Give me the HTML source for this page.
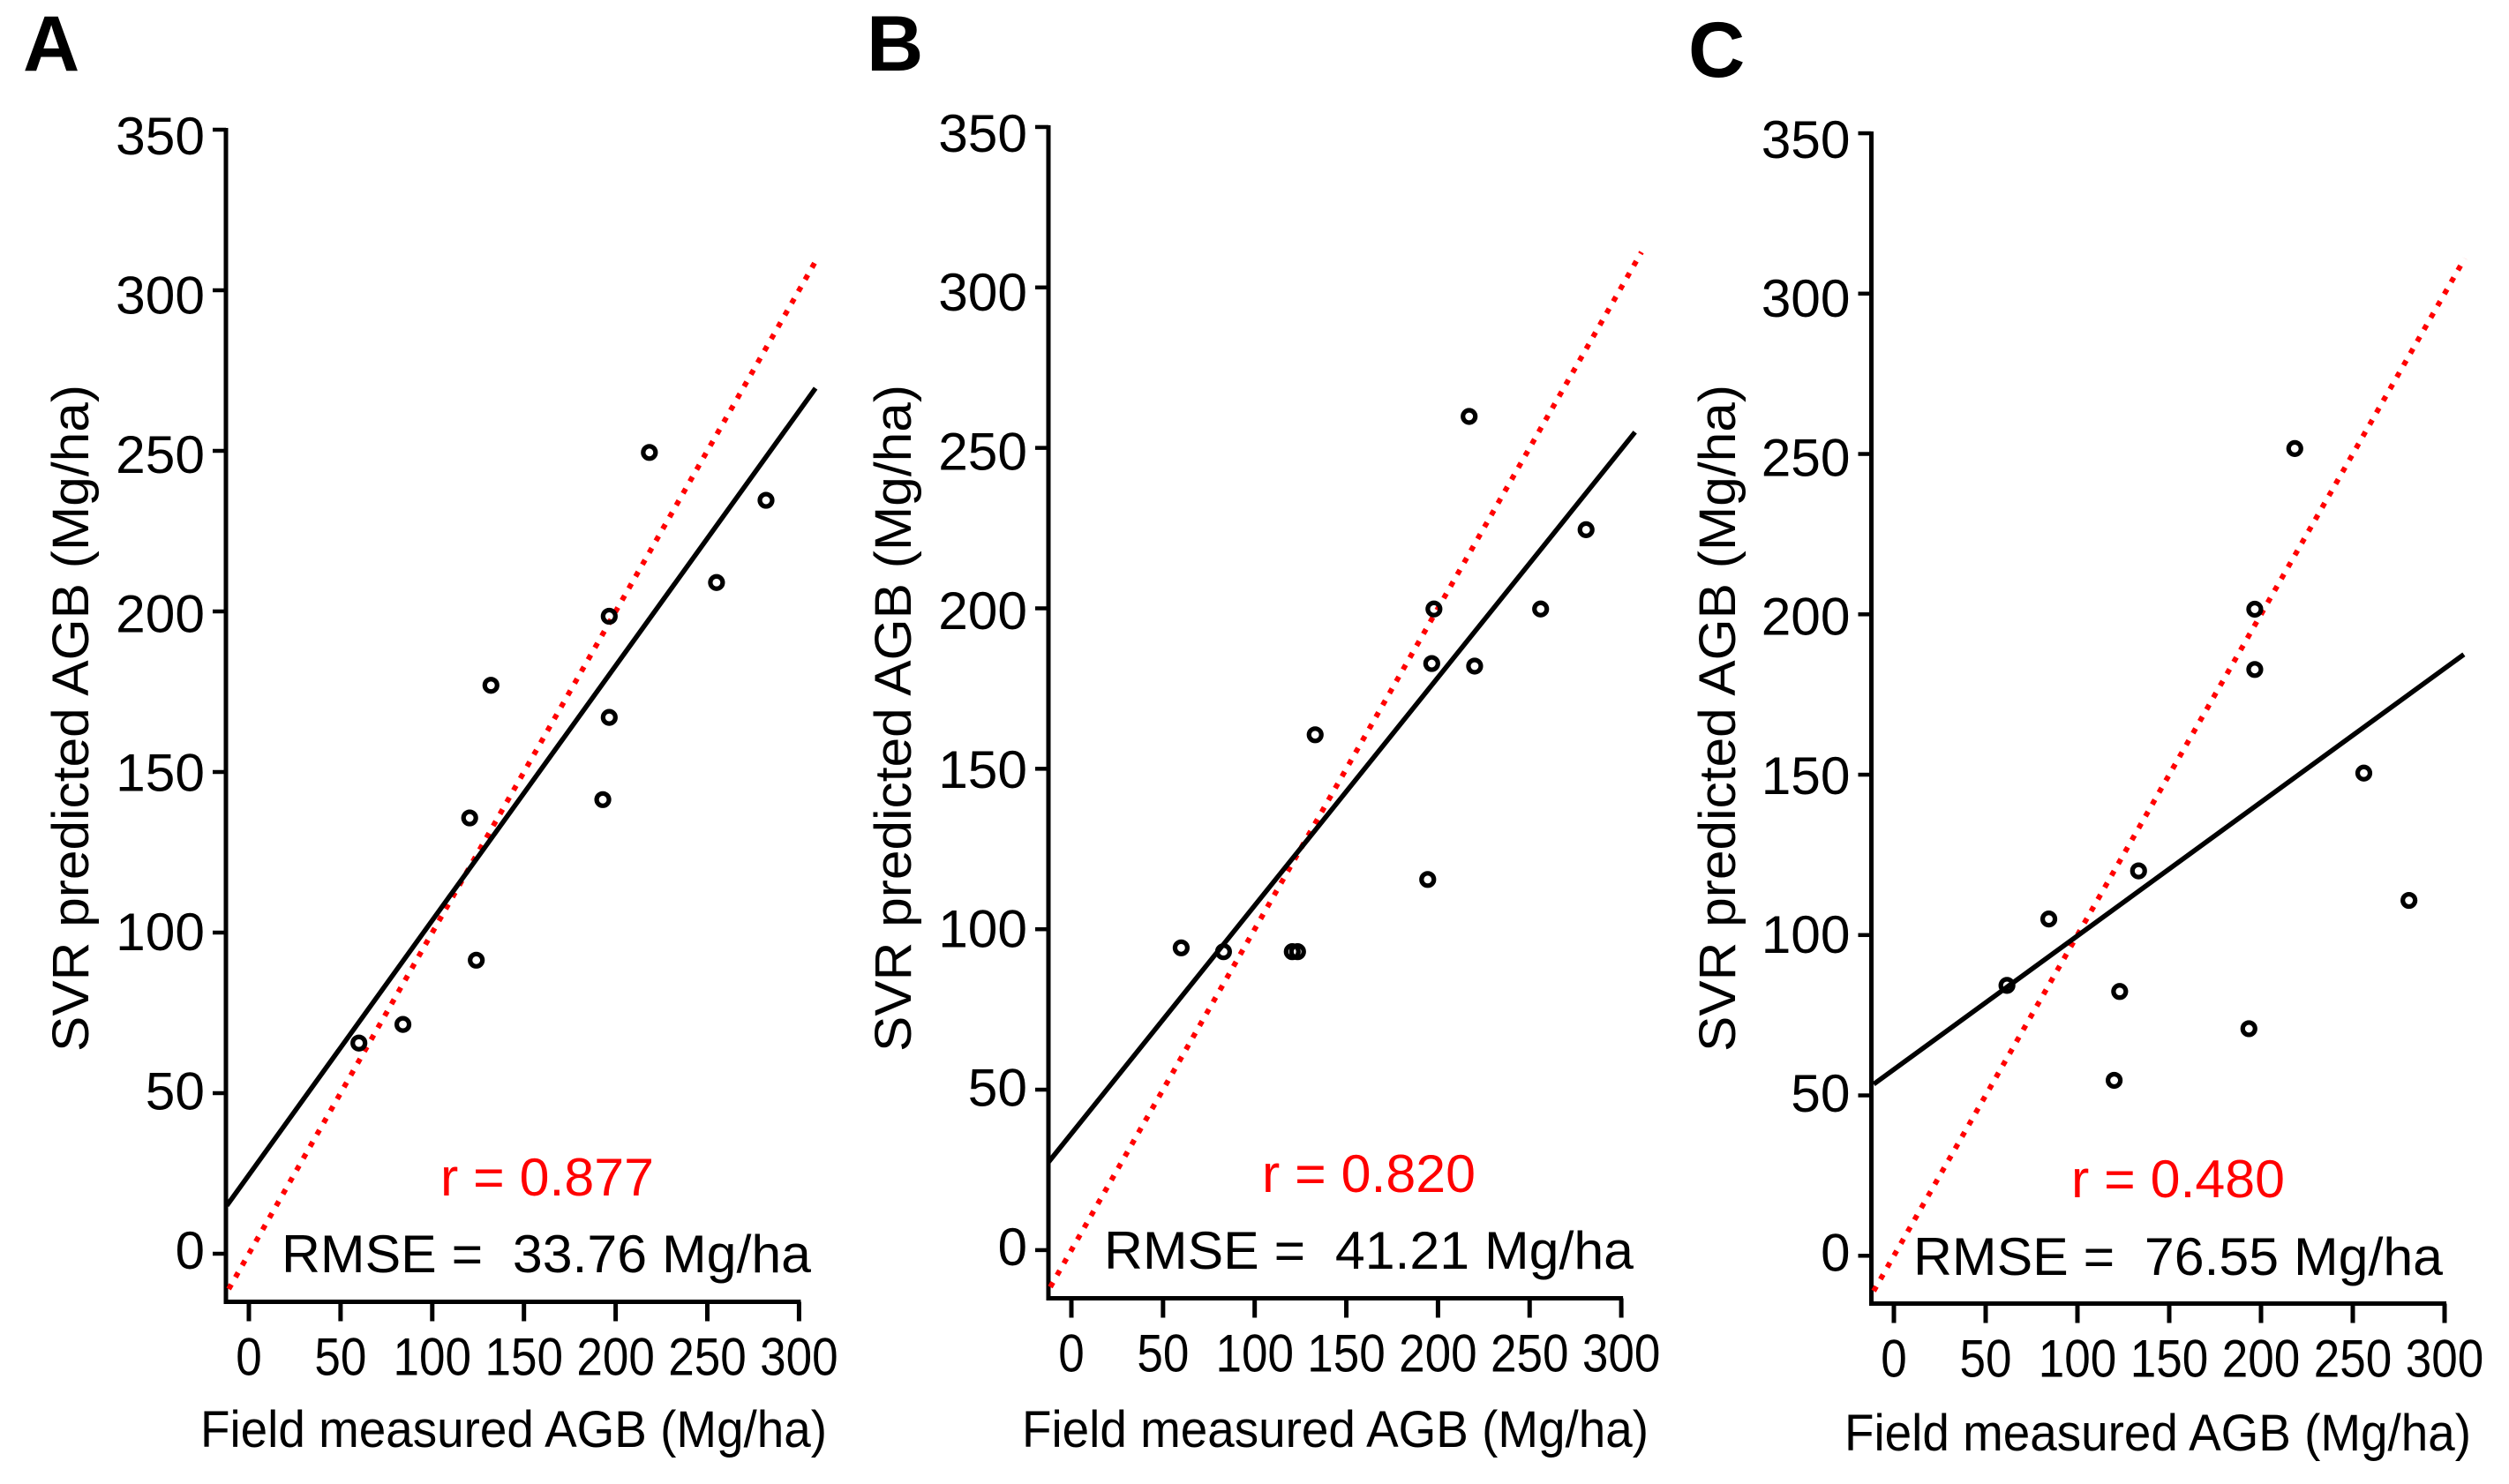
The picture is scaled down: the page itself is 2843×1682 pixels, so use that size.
<!DOCTYPE html>
<html lang="en">
<head>
<meta charset="utf-8">
<title>SVR predicted vs field measured AGB</title>
<style>
html,body{margin:0;padding:0;background:#fff;}
svg{display:block;}
text{font-family:"Liberation Sans",Arial,sans-serif;fill:#000;white-space:pre;}
.panel-letter{font-size:89px;font-weight:bold;}
.axis-title{font-size:58px;}
.stat-r{font-size:60px;fill:#f00;}
.stat-rmse{font-size:60px;}
.tick-label{font-size:60px;}
</style>
</head>
<body>
<svg id="figure" xmlns="http://www.w3.org/2000/svg" width="2843" height="1682" viewBox="0 0 2843 1682">
  <rect x="0" y="0" width="2843" height="1682" fill="#fff"/>

  <g id="panel-a">
    <text class="panel-letter" x="26" y="80">A</text>
    <text class="axis-title" transform="translate(100 1192) rotate(-90)" textLength="756" lengthAdjust="spacingAndGlyphs">SVR predicted AGB (Mg/ha)</text>
    <text class="axis-title" x="227" y="1640" textLength="710" lengthAdjust="spacingAndGlyphs">Field measured AGB (Mg/ha)</text>
    <text class="stat-r" x="499" y="1355" textLength="242" lengthAdjust="spacingAndGlyphs">r = 0.877</text>
    <text class="stat-rmse" x="319" y="1442" textLength="600" lengthAdjust="spacingAndGlyphs">RMSE =  33.76 Mg/ha</text>
  </g>

  <g id="panel-b">
    <text class="panel-letter" x="982" y="80">B</text>
    <text class="axis-title" transform="translate(1032 1192) rotate(-90)" textLength="756" lengthAdjust="spacingAndGlyphs">SVR predicted AGB (Mg/ha)</text>
    <text class="axis-title" x="1158" y="1640" textLength="710" lengthAdjust="spacingAndGlyphs">Field measured AGB (Mg/ha)</text>
    <text class="stat-r" x="1430" y="1351" textLength="242" lengthAdjust="spacingAndGlyphs">r = 0.820</text>
    <text class="stat-rmse" x="1251" y="1438" textLength="600" lengthAdjust="spacingAndGlyphs">RMSE =  41.21 Mg/ha</text>
  </g>

  <g id="panel-c">
    <text class="panel-letter" x="1913" y="87">C</text>
    <text class="axis-title" transform="translate(1966 1192) rotate(-90)" textLength="756" lengthAdjust="spacingAndGlyphs">SVR predicted AGB (Mg/ha)</text>
    <text class="axis-title" x="2090" y="1644" textLength="710" lengthAdjust="spacingAndGlyphs">Field measured AGB (Mg/ha)</text>
    <text class="stat-r" x="2347" y="1357" textLength="242" lengthAdjust="spacingAndGlyphs">r = 0.480</text>
    <text class="stat-rmse" x="2168" y="1445" textLength="600" lengthAdjust="spacingAndGlyphs">RMSE =  76.55 Mg/ha</text>
  </g>
</svg>

<script>
// Tick labels
const xTickValues = [0, 50, 100, 150, 200, 250, 300];
const yTickValues = [0, 50, 100, 150, 200, 250, 300, 350];

// Panel A values
const fieldA = [60, 84, 120.4, 124, 132, 193, 196.5, 196.5, 218.4, 255, 282];
const predictedA = [65.6, 71.4, 135.7, 91.4, 177, 141.4, 198.5, 167, 249.5, 209, 234.6];
const fitXA = [-12, 309];
const fitYA = [15, 269.5];
const identityA = [-11, 309];

// Panel B values
const fieldB = [59.9, 83, 120.5, 123.4, 133, 194.4, 197.8, 196.6, 217, 220, 256, 280.8];
const predictedB = [94.2, 93, 93, 93, 160.6, 115.5, 199.8, 182.8, 259.8, 182, 199.8, 224.5];
const fitXB = [-12.5, 307.5];
const fitYB = [27.4, 254.9];
const identityB = [-11.5, 311];

// Panel C values
const fieldC = [61.6, 84.4, 120, 123, 133.3, 193.4, 196.6, 196.6, 218.4, 256, 280.6];
const predictedC = [84.3, 105, 54.7, 82.4, 120, 70.8, 201.6, 182.8, 251.7, 150.5, 110.8];
const fitXC = [-11, 310.5];
const fitYC = [53.5, 187.5];
const identityC = [-11, 311];

const SVG_NS = 'http://www.w3.org/2000/svg';

function make(tag, parent, props) {
  const el = document.createElementNS(SVG_NS, tag);
  for (const k in props) el.setAttribute(k, props[k]);
  parent.appendChild(el);
  return el;
}

function drawPanel(id, frame, field, predicted, fitX, fitY, identity) {
  const g = document.getElementById('panel-' + id);
  const sx = v => frame.x0 + v * frame.kx;
  const sy = v => frame.y0 - v * frame.ky;

  // y axis
  const yTop = sy(yTickValues[yTickValues.length - 1]);
  const xRight = sx(xTickValues[xTickValues.length - 1]);
  const yAxisLine = make('line', g, {x1: frame.ax, x2: frame.ax, y1: yTop - 2, y2: frame.ay + 2.5, stroke: '#000', 'stroke-width': 5});
  
  

  yTickValues.forEach(v => {
    const t = make('line', g, {x1: frame.ax - 15, x2: frame.ax, y1: sy(v), y2: sy(v), stroke: '#000', 'stroke-width': 4.5});
    
    
    const lab = make('text', g, {class: 'tick-label', x: frame.ax - 24, y: sy(v) + 17 + v * 11 / 350, 'text-anchor': 'end'});
    if (String(v).length > 1) {
      lab.setAttribute('textLength', String(v).length * 33.6);
      lab.setAttribute('lengthAdjust', 'spacingAndGlyphs');
    }
    lab.textContent = String(v);
    
    
  });

  // x axis
  const xAxisLine = make('line', g, {x1: frame.ax - 2.5, x2: xRight + 2, y1: frame.ay, y2: frame.ay, stroke: '#000', 'stroke-width': 5});
  
  

  xTickValues.forEach(v => {
    const t = make('line', g, {x1: sx(v), x2: sx(v), y1: frame.ay, y2: frame.ay + 22, stroke: '#000', 'stroke-width': 5});
    
    
    const lab = make('text', g, {class: 'tick-label', x: sx(v), y: frame.ay + 83, 'text-anchor': 'middle'});
    lab.setAttribute('textLength', String(v).length * 29.5);
    lab.setAttribute('lengthAdjust', 'spacingAndGlyphs');
    lab.textContent = String(v);
    
    
  });

  // 1:1 reference line
  const ref = make('line', g, {x1: sx(identity[0]), y1: sy(identity[0]), x2: sx(identity[1]), y2: sy(identity[1]), stroke: '#f00', 'stroke-width': 6, 'stroke-dasharray': '6 9.5'});
  
  

  // Regression line
  const fit = make('line', g, {x1: sx(fitX[0]), y1: sy(fitY[0]), x2: sx(fitX[1]), y2: sy(fitY[1]), stroke: '#000', 'stroke-width': 5.5});
  
  

  // Points
  field.forEach((v, i) => {
    const c = make('circle', g, {cx: sx(v), cy: sy(predicted[i]), r: 7, fill: 'none', stroke: '#000', 'stroke-width': 5.2});
    
    
  });
}

drawPanel('a', {x0: 282, kx: 2.078, y0: 1421, ky: 3.64, ax: 256, ay: 1475.5}, fieldA, predictedA, fitXA, fitYA, identityA);
drawPanel('b', {x0: 1214, kx: 2.077, y0: 1416.9, ky: 3.637, ax: 1188, ay: 1471.5}, fieldB, predictedB, fitXB, fitYB, identityB);
drawPanel('c', {x0: 2146, kx: 2.08, y0: 1423.3, ky: 3.635, ax: 2120.5, ay: 1477.5}, fieldC, predictedC, fitXC, fitYC, identityC);
</script>
</body>
</html>
